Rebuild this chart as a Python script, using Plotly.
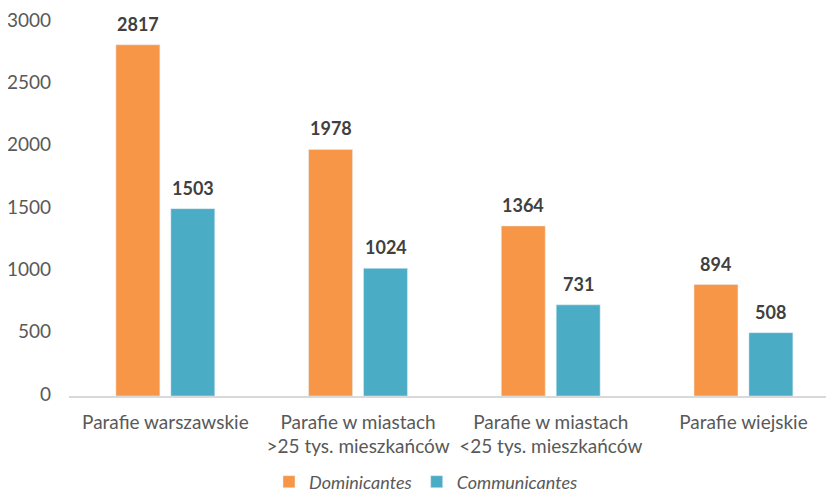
import plotly.graph_objects as go

categories = ["Parafie warszawskie", "Parafie w miastach<br>>25 tys. mieszkańców",
              "Parafie w miastach<br><25 tys. mieszkańców", "Parafie wiejskie"]
dominicantes = [2817, 1978, 1364, 894]
communicantes = [1503, 1024, 731, 508]
tick_vals = [0, 500, 1000, 1500, 2000, 2500, 3000]

FONT = "Lato, Open Sans, sans-serif"
# page body has an 8px margin; size the figure so the plot lands where the reference has it
fig = go.Figure()
fig.add_trace(go.Bar(name="Dominicantes", x=categories, y=dominicantes,
                     marker_color="#F79646"))
fig.add_trace(go.Bar(name="Communicantes", x=categories, y=communicantes,
                     marker_color="#4BACC6"))

for series, shift in ((dominicantes, -27.5), (communicantes, 27.5)):
    for cat, val in zip(categories, series):
        fig.add_annotation(x=cat, y=val, text=f"<b>{val}</b>", showarrow=False,
                           xshift=shift, yshift=8, yanchor="bottom",
                           font=dict(family=FONT, size=18, color="#404040"))

fig.update_layout(
    width=826, height=485,
    margin=dict(l=61, r=0, t=14, b=97, autoexpand=False),
    plot_bgcolor="white", paper_bgcolor="white",
    barmode="group", bargap=0.43, bargroupgap=0.2,
    font=dict(family=FONT, size=19, color="#595959"),
    legend=dict(orientation="h", x=(418 - 61) / 765, xanchor="center",
                yref="container", y=11 / 485, yanchor="middle",
                font=dict(size=18, style="italic", color="#595959"),
                traceorder="normal"),
    xaxis=dict(showline=True, linecolor="#D9D9D9", linewidth=1.5, ticks="",
               ticklabelstandoff=8, range=[-0.5, 3.47],
               tickfont=dict(size=19, color="#595959")),
    yaxis=dict(range=[0, 3000], tickvals=tick_vals, showgrid=False, zeroline=False,
               showline=False, ticks="", ticklabelstandoff=17,
               ticklabeloverflow="allow", ticklabelshift=-2,
               tickfont=dict(size=19, color="#595959")),
)
fig.write_html("out.html")
